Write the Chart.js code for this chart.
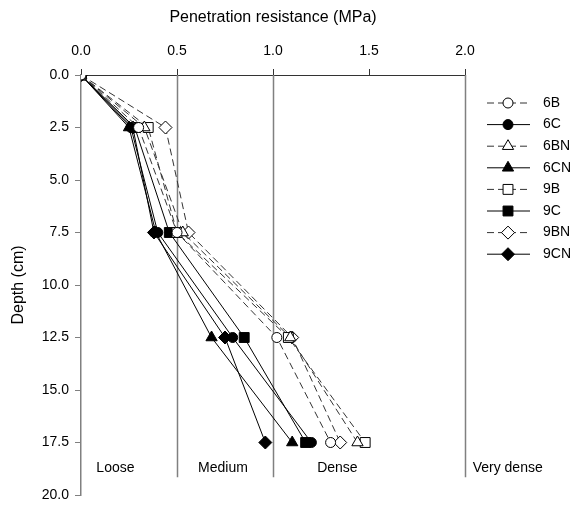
<!DOCTYPE html>
<html>
<head>
<meta charset="utf-8">
<script src="https://cdn.jsdelivr.net/npm/chart.js@4.4.1/dist/chart.umd.min.js"></script>
<style>
  html, body { margin: 0; padding: 0; background: #fff; }
  #wrap { width: 582px; height: 517px; }
</style>
</head>
<body>
<div id="wrap"><canvas id="myChart"></canvas></div>
<script>
// Profundidades de medición (cm)
const depths = [0, 2.5, 7.5, 12.5, 17.5];

// Resistencia a la penetración (MPa) por tratamiento
const s6B  = [0, 0.30, 0.50, 1.02, 1.30];
const s6C  = [0, 0.26, 0.40, 0.79, 1.20];
const s6BN = [0, 0.33, 0.53, 1.09, 1.44];
const s6CN = [0, 0.25, 0.39, 0.68, 1.10];
const s9B  = [0, 0.35, 0.50, 1.08, 1.48];
const s9C  = [0, 0.28, 0.46, 0.85, 1.17];
const s9BN = [0, 0.44, 0.56, 1.10, 1.35];
const s9CN = [0, 0.27, 0.38, 0.75, 0.96];

// Clases de compactación
const zoneNames = ["Loose", "Medium", "Dense", "Very dense"];
const zoneStart = [0.08, 0.61, 1.23, 2.04];
const zoneLines = [0.5, 1.0, 2.0];

const FONT = "Arial, 'Liberation Sans', sans-serif";

function serie(label, values, style, filled, dashed) {
  return {
    label: label,
    data: values.map((v, i) => ({ x: v, y: depths[i] })),
    borderColor: dashed ? "#333" : "#000",
    borderWidth: 1,
    borderDash: dashed ? [7, 4] : [],
    pointStyle: style,
    pointRadius: style === "rect" ? 7 : style === "triangle" ? 6.5 : style === "rectRot" ? 6.5 : 5,
    pointBackgroundColor: filled ? "#000" : "#fff",
    pointBorderColor: "#000",
    pointBorderWidth: 1,
    fill: false,
    tension: 0,
  };
}

const datasets = [
  serie("6B", s6B, "circle", false, true),
  serie("6C", s6C, "circle", true, false),
  serie("6BN", s6BN, "triangle", false, true),
  serie("6CN", s6CN, "triangle", true, false),
  serie("9B", s9B, "rect", false, true),
  serie("9C", s9C, "rect", true, false),
  serie("9BN", s9BN, "rectRot", false, true),
  serie("9CN", s9CN, "rectRot", true, false),
];

// Líneas verticales de clase, textos de clase y leyenda
const extras = {
  id: "extras",
  beforeDatasetsDraw(chart) {
    const { ctx, scales: { x, y } } = chart;
    ctx.save();
    ctx.strokeStyle = "#808080";
    ctx.lineWidth = 1.5;
    zoneLines.forEach((v) => {
      const px = Math.round(x.getPixelForValue(v)) + 0.5;
      ctx.beginPath();
      ctx.moveTo(px, y.getPixelForValue(0));
      ctx.lineTo(px, y.getPixelForValue(19.15));
      ctx.stroke();
    });
    ctx.restore();
  },
  afterDraw(chart) {
    const { ctx, scales: { x, y } } = chart;
    ctx.save();
    ctx.fillStyle = "#000";
    ctx.font = "14px " + FONT;
    ctx.textBaseline = "middle";
    ctx.textAlign = "left";
    zoneNames.forEach((name, i) => {
      ctx.fillText(name, x.getPixelForValue(zoneStart[i]), y.getPixelForValue(18.7));
    });

    // Leyenda: línea + marcador + etiqueta
    const lx = 487, ly = 103, step = 21.6;
    chart.data.datasets.forEach((ds, i) => {
      const yy = ly + i * step;
      ctx.strokeStyle = ds.borderColor;
      ctx.lineWidth = 1;
      ctx.setLineDash(ds.borderDash);
      ctx.beginPath();
      ctx.moveTo(lx, yy);
      ctx.lineTo(lx + 43, yy);
      ctx.stroke();
      ctx.setLineDash([]);
      ctx.fillStyle = ds.pointBackgroundColor;
      ctx.strokeStyle = ds.pointBorderColor;
      Chart.helpers.drawPoint(ctx, {
        pointStyle: ds.pointStyle,
        radius: ds.pointRadius,
        rotation: 0,
        borderWidth: 1,
      }, lx + 21, yy);
      ctx.fillStyle = "#000";
      ctx.fillText(ds.label, lx + 56, yy);
    });
    ctx.restore();
  },
};

const ctx = document.getElementById("myChart").getContext("2d");
new Chart(ctx, {
  type: "line",
  data: { datasets: datasets },
  plugins: [extras],
  options: {
    responsive: true,
    maintainAspectRatio: false,
    animation: false,
    layout: { padding: { left: 0, right: 117, top: 0, bottom: 22 } },
    plugins: {
      legend: { display: false },
      tooltip: { enabled: false },
    },
    scales: {
      x: {
        type: "linear",
        position: "top",
        min: 0,
        max: 2,
        afterFit: (scale) => { scale.height = 75; },
        ticks: {
          stepSize: 0.5,
          color: "#000",
          padding: 9,
          font: { size: 14, family: FONT },
          callback: (v) => v.toFixed(1),
        },
        grid: { drawOnChartArea: false, drawTicks: true, tickLength: 6, color: "#333" },
        border: { display: true, color: "#333", width: 1 },
        title: {
          display: true,
          text: "Penetration resistance (MPa)",
          color: "#000",
          font: { size: 16, family: FONT },
          padding: { top: 8, bottom: 8 },
        },
      },
      y: {
        type: "linear",
        reverse: true,
        min: 0,
        max: 20,
        afterFit: (scale) => { scale.width = 81; },
        ticks: {
          stepSize: 2.5,
          color: "#000",
          padding: 6,
          font: { size: 14, family: FONT },
          callback: (v) => v.toFixed(1),
        },
        grid: { drawOnChartArea: false, drawTicks: true, tickLength: 6, color: "#808080" },
        border: { display: true, color: "#808080", width: 1.5 },
        title: {
          display: true,
          text: "Depth (cm)",
          color: "#000",
          font: { size: 16, family: FONT },
          padding: { top: 9, bottom: 4 },
        },
      },
    },
  },
});
</script>
</body>
</html>
